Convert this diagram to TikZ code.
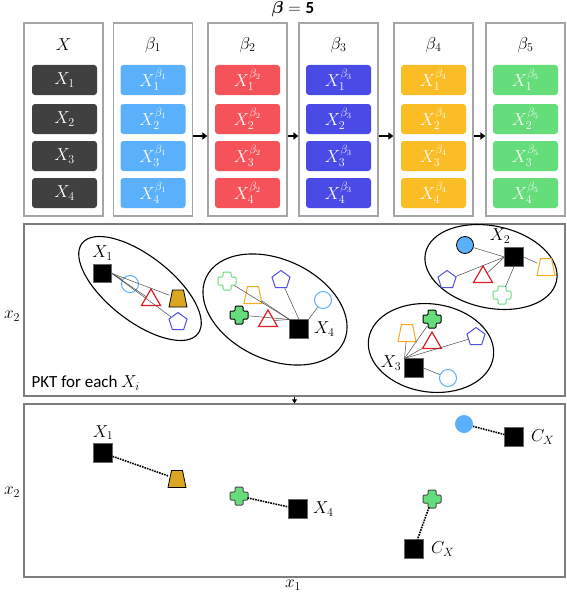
\documentclass[tikz,border=0pt]{standalone}
\usepackage{amsmath}
\usepackage{fontspec}
\setmainfont{Carlito}
\usetikzlibrary{shapes.geometric,positioning,arrows.meta}

\newcommand{\plusmark}[3]{%
  \node[markbox] (#1) at (#2) {};
  \path[#3,rounded corners=1pt] (#1.center) ++(-4,-9) -- ++(8,0) -- ++(0,5) -- ++(5,0) -- ++(0,8) -- ++(-5,0) -- ++(0,5) -- ++(-8,0) -- ++(0,-5) -- ++(-5,0) -- ++(0,-8) -- ++(5,0) -- cycle;}
\newcommand{\trapmark}[3]{%
  \node[markbox,rectangle] (#1) at (#2) {};
  \path[#3] (#1.center) ++(-9,8.5) -- ++(18,0) -- ++(-3.5,-17) -- ++(-11,0) -- cycle;}

\begin{document}
\begin{tikzpicture}[x=1pt,y=-1pt,
  font=\fontsize{17}{20}\selectfont,
  panel/.style={draw=panelGray,line width=1.3pt,fill=white,minimum width=79pt,minimum height=193pt,inner sep=0pt},
  cell/.style={rounded corners=3pt,minimum width=65pt,minimum height=30pt,inner sep=0pt,text=white},
  frame/.style={draw=frameGray,line width=1.3pt,minimum width=541pt,minimum height=172pt,inner sep=0pt},
  flow/.style={-{Triangle[length=5pt,width=7pt]},line width=1.5pt},
  ell/.style={ellipse,draw=black,line width=1.1pt,inner sep=0pt},
  sqr/.style={rectangle,fill=black,draw=black!60,line width=0.6pt,minimum size=18.5pt,inner sep=0pt},
  ocirc/.style={circle,draw=skyBlue,line width=1pt,minimum size=17pt,inner sep=0pt},
  fcirc/.style={circle,fill=skyBlue,draw=black,line width=0.8pt,minimum size=17pt,inner sep=0pt},
  otri/.style={regular polygon,regular polygon sides=3,draw=triRed,line width=1.2pt,minimum size=22pt,inner sep=0pt},
  opent/.style={regular polygon,regular polygon sides=5,draw=pentBlue,line width=1pt,minimum size=19pt,inner sep=0pt},
  otrap/.style={draw=trapOrange,line width=1pt},
  ftrap/.style={fill=goldFill,draw=black,line width=0.8pt},
  markbox/.style={circle,minimum size=17pt,inner sep=0pt},
  link/.style={draw=black!70,line width=0.5pt},
  dotlink/.style={densely dotted,line width=1.6pt}]
\definecolor{panelGray}{RGB}{165,165,165}
\definecolor{frameGray}{RGB}{125,125,125}
\definecolor{boxDark}{RGB}{64,64,64}
\definecolor{boxA}{RGB}{90,176,250}
\definecolor{boxB}{RGB}{245,82,90}
\definecolor{boxC}{RGB}{74,74,230}
\definecolor{boxD}{RGB}{251,189,37}
\definecolor{boxE}{RGB}{102,221,123}
\definecolor{skyBlue}{RGB}{90,176,250}
\definecolor{triRed}{RGB}{222,30,40}
\definecolor{pentBlue}{RGB}{80,80,225}
\definecolor{trapOrange}{RGB}{245,172,30}
\definecolor{goldFill}{RGB}{218,165,32}
\definecolor{crossGreen}{RGB}{102,221,123}
\path[use as bounding box,fill=white] (0,0) rectangle (566,594);

\node (title) at (293,9) {$\boldsymbol{\beta}=\mathbf{5}$};

\node[panel] (p0) at (63.5,119.5) {};
\node (h0) at (63.5,45) {$X$};
\foreach \i/\cy in {1/80,2/119,3/156,4/193}
  \node[cell,fill=boxDark] (c0-\i) at (64.5,\cy) {$X_{\i}$};

\foreach \k/\cx/\col in {1/153/boxA,2/247.5/boxB,3/338.5/boxC,4/433.5/boxD,5/525.5/boxE} {
  \node[panel] (p\k) at (\cx,119.5) {};
  \node (h\k) at (\cx,45) {$\beta_{\k}$};
  \foreach \i/\cy in {1/80,2/119,3/156,4/193}
    \node[cell,fill=\col] (c\k-\i) at (\cx,\cy) {$X_{\i}^{\beta_{\k}}$};
}
\foreach \a/\b in {1/2,2/3,3/4,4/5}
  \draw[flow] ([yshift=-16.5pt]p\a.east) -- ([yshift=-16.5pt]p\b.west);

\node[frame] (pkt) at (294.5,310) {};
\node[frame,minimum height=173pt] (res) at (294.5,490.5) {};
\draw[-{Triangle[length=4pt,width=5pt]},line width=1.2pt] (pkt.south) -- (res.north);
\node (ax2a) at (12,316) {$x_2$};
\node (ax2b) at (12,492) {$x_2$};
\node (ax1) at (293,585) {$x_1$};
\node[anchor=west] (pktlab) at (28,383) {PKT for each $X_i$};

\node[ell,minimum width=147pt,minimum height=65pt,rotate=-38] (e1) at (140,288.5) {};
\node[ell,minimum width=152pt,minimum height=100pt,rotate=-25] (e2) at (275,309.5) {};
\node[ell,minimum width=134pt,minimum height=82pt,rotate=-12] (e3) at (491,267) {};
\node[ell,minimum width=126pt,minimum height=88pt,rotate=-8] (e4) at (431,348) {};

\node[sqr] (x1m) at (102.5,273.5) {};
\node[above=0pt of x1m] (lx1m) {$X_1$};
\node[ocirc] (c1) at (130,284) {};
\node[otri] (t1) at (151,300) {};
\trapmark{tp1}{178,298.5}{ftrap}
\node[opent] (pe1) at (178,322) {};
\draw[link] (x1m.east) -- (c1);
\draw[link] (x1m.east) -- (t1);
\draw[link] (x1m.east) -- (tp1);
\draw[link] (x1m.east) -- (pe1);

\node[sqr] (x4m) at (299,329) {};
\node[right=2pt of x4m] (lx4m) {$X_4$};
\plusmark{pl2a}{227,281}{draw=crossGreen,line width=1pt}
\trapmark{tp2}{253,295}{otrap}
\node[opent] (pe2) at (281,280) {};
\node[ocirc] (c2) at (323,300) {};
\plusmark{pl2b}{239,315}{fill=crossGreen,draw=black,line width=1pt}
\node[otri] (t2) at (268,321) {};
\draw[link] (x4m.north west) -- (pl2a);
\draw[link] (x4m.north west) -- (tp2);
\draw[link] (x4m.north west) -- (pl2b);
\draw[link] (x4m.north west) -- (t2);
\draw[link] (x4m.north) -- (pe2);
\draw[link] (x4m.north east) -- (c2);

\node[sqr] (x2m) at (514,257) {};
\node (lx2m) at (500,236) {$X_2$};
\node[fcirc] (c3) at (465,245) {};
\node[opent] (pe3) at (447,280) {};
\node[otri] (t3) at (483,277) {};
\trapmark{tp3}{546,267}{otrap}
\plusmark{pl3}{502,295}{draw=crossGreen,line width=1pt}
\draw[link] (x2m.west) -- (c3);
\draw[link] (x2m.west) -- (pe3);
\draw[link] (x2m.west) -- (t3);
\draw[link] (x2m.east) -- (tp3);
\draw[link] (x2m.south) -- (pl3);

\node[sqr] (x3m) at (414,368) {};
\node (lx3m) at (391,363) {$X_3$};
\trapmark{tp4}{407,333}{otrap}
\plusmark{pl4}{432,319}{fill=crossGreen,draw=black,line width=1pt}
\node[otri] (t4) at (432,343) {};
\node[opent] (pe4) at (476,337) {};
\node[ocirc] (c4) at (448,378) {};
\draw[link] (x3m.north west) -- (tp4);
\draw[link] (x3m.north west) -- (pl4);
\draw[link] (x3m.north west) -- (t4);
\draw[link] (x3m.north west) -- (pe4);
\draw[link] (x3m.east) -- (c4);

\node[sqr] (bx1) at (103,453) {};
\node[above=0pt of bx1] (lbx1) {$X_1$};
\trapmark{btp}{177,479}{ftrap}
\plusmark{bpl1}{239,496}{fill=crossGreen,draw=black!70,line width=1pt}
\node[sqr] (bx4) at (298,509) {};
\node[right=2pt of bx4] (lbx4) {$X_4$};
\node[circle,fill=skyBlue,minimum size=18pt,inner sep=0pt] (bc) at (464,424) {};
\node[sqr] (bcx1) at (514,437) {};
\node[right=4pt of bcx1] (lbcx1) {$C_X$};
\plusmark{bpl2}{432,499}{fill=crossGreen,draw=black!70,line width=1pt}
\node[sqr] (bcx2) at (414,549) {};
\node[right=4pt of bcx2] (lbcx2) {$C_X$};
\draw[dotlink] (bx1) -- (btp);
\draw[dotlink] (bpl1) -- (bx4);
\draw[dotlink] (bc) -- (bcx1);
\draw[dotlink] (bpl2) -- (bcx2);
\end{tikzpicture}
\end{document}
